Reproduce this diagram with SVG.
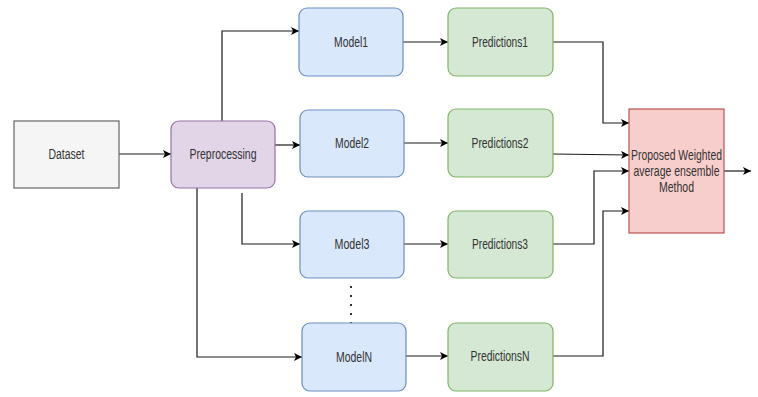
<svg xmlns="http://www.w3.org/2000/svg" width="758" height="397" viewBox="0 0 758 397">
  <style>
    .lbl { font-family: "Liberation Sans", Arial, sans-serif; font-size: 14px; fill: #333333; text-anchor: middle; }
    .edge { fill: none; stroke: #1a1a1a; stroke-width: 1.2; marker-end: url(#arrow); }
    .data { fill: #f5f5f5; stroke: #666666; stroke-width: 1.2; }
    .prep { fill: #e1d5e7; stroke: #9673a6; stroke-width: 1.2; }
    .model { fill: #dae8fc; stroke: #6c8ebf; stroke-width: 1.2; }
    .pred { fill: #d5e8d4; stroke: #82b366; stroke-width: 1.2; }
    .ens { fill: #f8cecc; stroke: #b85450; stroke-width: 1.2; }
  </style>
  <defs>
    <marker id="arrow" markerUnits="userSpaceOnUse" markerWidth="10" markerHeight="10" refX="8" refY="4" orient="auto">
      <path d="M0,0 L8,4 L0,8 L2,4 z" fill="#000000"/>
    </marker>
  </defs>

  <rect width="758" height="397" fill="#ffffff"/>

  <!-- connectors -->
  <g id="connectors">
    <path class="edge" d="M119,154 H171"/>
    <path class="edge" d="M222,121 V31 H299"/>
    <path class="edge" d="M275,145 H300"/>
    <path class="edge" d="M242,193 V244 H300"/>
    <path class="edge" d="M197,188 V357 H302"/>
    <path class="edge" d="M403,42 H448"/>
    <path class="edge" d="M404,143 H448"/>
    <path class="edge" d="M404,244 H448"/>
    <path class="edge" d="M406,356 H448"/>
    <path class="edge" d="M553,42 H603 V123 H629"/>
    <path class="edge" d="M553,154 L629,155"/>
    <path class="edge" d="M553,244 H594 V171 H629"/>
    <path class="edge" d="M553,356 H603 V211 H629"/>
    <path class="edge" d="M724,171 H751"/>
    <path d="M351,286 V323" fill="none" stroke="#333333" stroke-width="2" stroke-dasharray="2 7"/>
  </g>

  <g id="dataset">
    <rect class="data" x="14" y="121" width="105" height="67"/>
    <text class="lbl" x="66.5" y="158.5" textLength="36" lengthAdjust="spacingAndGlyphs">Dataset</text>
  </g>

  <g id="preprocessing">
    <rect class="prep" x="171" y="121" width="104" height="67" rx="8"/>
    <text class="lbl" x="223" y="158.5" textLength="67" lengthAdjust="spacingAndGlyphs">Preprocessing</text>
  </g>

  <g id="model1">
    <rect class="model" x="299" y="8" width="104" height="68" rx="8"/>
    <text class="lbl" x="351" y="46.5" textLength="34" lengthAdjust="spacingAndGlyphs">Model1</text>
  </g>
  <g id="model2">
    <rect class="model" x="300" y="110" width="104" height="67" rx="8"/>
    <text class="lbl" x="352" y="147.5" textLength="34" lengthAdjust="spacingAndGlyphs">Model2</text>
  </g>
  <g id="model3">
    <rect class="model" x="300" y="211" width="104" height="67" rx="8"/>
    <text class="lbl" x="352" y="248.5" textLength="35" lengthAdjust="spacingAndGlyphs">Model3</text>
  </g>
  <g id="modelN">
    <rect class="model" x="302" y="323" width="104" height="68" rx="8"/>
    <text class="lbl" x="354" y="361.5" textLength="36" lengthAdjust="spacingAndGlyphs">ModelN</text>
  </g>

  <g id="predictions1">
    <rect class="pred" x="448" y="8" width="105" height="68" rx="8"/>
    <text class="lbl" x="500" y="46.5" textLength="56" lengthAdjust="spacingAndGlyphs">Predictions1</text>
  </g>
  <g id="predictions2">
    <rect class="pred" x="448" y="109" width="105" height="68" rx="8"/>
    <text class="lbl" x="500" y="147.5" textLength="57" lengthAdjust="spacingAndGlyphs">Predictions2</text>
  </g>
  <g id="predictions3">
    <rect class="pred" x="448" y="211" width="105" height="67" rx="8"/>
    <text class="lbl" x="500" y="248.5" textLength="56" lengthAdjust="spacingAndGlyphs">Predictions3</text>
  </g>
  <g id="predictionsN">
    <rect class="pred" x="448" y="323" width="105" height="68" rx="8"/>
    <text class="lbl" x="500" y="360.5" textLength="59" lengthAdjust="spacingAndGlyphs">PredictionsN</text>
  </g>

  <g id="ensemble">
    <rect class="ens" x="629" y="109" width="95" height="124"/>
    <text class="lbl" x="676.5" y="160" textLength="91" lengthAdjust="spacingAndGlyphs">Proposed Weighted</text>
    <text class="lbl" x="676.5" y="176" textLength="86" lengthAdjust="spacingAndGlyphs">average ensemble</text>
    <text class="lbl" x="676.5" y="192" textLength="35" lengthAdjust="spacingAndGlyphs">Method</text>
  </g>
</svg>
